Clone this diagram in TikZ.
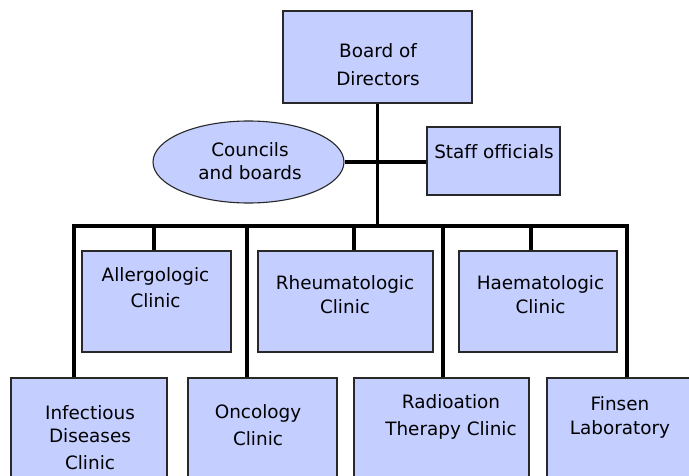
\documentclass[tikz,border=0pt]{standalone}
\usepackage{fontspec}
\setmainfont{DejaVu Sans}[Ligatures=NoCommon]
\usetikzlibrary{shapes.geometric}
\definecolor{boxfill}{RGB}{196,206,255}
\definecolor{boxline}{RGB}{40,40,40}
\newcommand\mlines[1]{\vtop{\halign{\hfil##\hfil\cr#1\crcr}}}
\tikzset{
  orgbox/.style={draw=boxline, line width=1.2pt, fill=boxfill, inner sep=0pt},
  orgell/.style={ellipse, draw=boxline, line width=1.1pt, fill=boxfill, inner sep=0pt},
  txt/.style={anchor=base, inner sep=0pt, font=\fontsize{18.4}{#1}\selectfont},
  txt/.default=26,
  conn/.style={line width=3.3pt, black},
}
\begin{document}
\begin{tikzpicture}[x=1pt,y=-1pt]
\useasboundingbox (0,0) rectangle (689,476);
\fill[white] (0,0) rectangle (689,476);
\clip (0,0) rectangle (689,476);

% boxes
\node[orgbox, minimum width=189, minimum height=92] (board) at (377.5,57) {};
\node[orgbox, minimum width=133, minimum height=68] (staff) at (493.5,161) {};
\node[orgell, minimum width=191, minimum height=82] (council) at (248.5,162) {};
\node[orgbox, minimum width=149, minimum height=101] (aller) at (156.5,301.5) {};
\node[orgbox, minimum width=175, minimum height=101] (rheum) at (345.5,301.5) {};
\node[orgbox, minimum width=158, minimum height=101] (haem) at (538,301.5) {};
\node[orgbox, minimum width=156, minimum height=110] (infect) at (89,433) {};
\node[orgbox, minimum width=149, minimum height=110] (onc) at (262.5,433) {};
\node[orgbox, minimum width=175, minimum height=110] (rad) at (441.5,433) {};
\node[orgbox, minimum width=146, minimum height=110] (finsen) at (620,433) {};

% texts
\node[txt=28] (boardT) at (378,58) {\mlines{Board of\cr Directors}};
\node[txt] (staffT) at (494,159) {Staff officials};
\node[txt=22.7] (councilT) at (250,156.7) {\mlines{Councils\cr and boards}};
\node[txt=26] (allerT) at (155.5,282) {\mlines{Allergologic\cr Clinic}};
\node[txt=24] (rheumT) at (345,290) {\mlines{Rheumatologic\cr Clinic}};
\node[txt=24] (haemT) at (540.5,290) {\mlines{Haematologic\cr Clinic}};
\node[txt=23] (infectT) at (90,419) {\mlines{Infectious\cr Diseases\cr\noalign{\kern4pt} Clinic}};
\node[txt=27] (oncT) at (258,418) {\mlines{Oncology\cr Clinic}};
\node[txt=27] (radT) at (451,408) {\mlines{Radioation\cr Therapy Clinic}};
\node[txt=24] (finsenT) at (620,410) {\mlines{Finsen\cr Laboratory}};

% connectors
\coordinate (busL) at (74,226);
\coordinate (busR) at (627,226);
\draw[conn] (board.south) -- (board.south |- busL);
\draw[conn] (council.east) -- (council.east -| staff.west);
\draw[conn, line cap=rect] (busL) -- (busR);
\draw[conn] ([xshift=-15]infect.north) -- ([xshift=-15]infect.north |- busL);
\draw[conn] ([xshift=-2.5]aller.north) -- ([xshift=-2.5]aller.north |- busL);
\draw[conn] ([xshift=-15.5]onc.north) -- ([xshift=-15.5]onc.north |- busL);
\draw[conn] ([xshift=8.5]rheum.north) -- ([xshift=8.5]rheum.north |- busL);
\draw[conn] ([xshift=1.5]rad.north) -- ([xshift=1.5]rad.north |- busL);
\draw[conn] ([xshift=-7]haem.north) -- ([xshift=-7]haem.north |- busL);
\draw[conn] ([xshift=7]finsen.north) -- ([xshift=7]finsen.north |- busR);
\end{tikzpicture}
\end{document}
